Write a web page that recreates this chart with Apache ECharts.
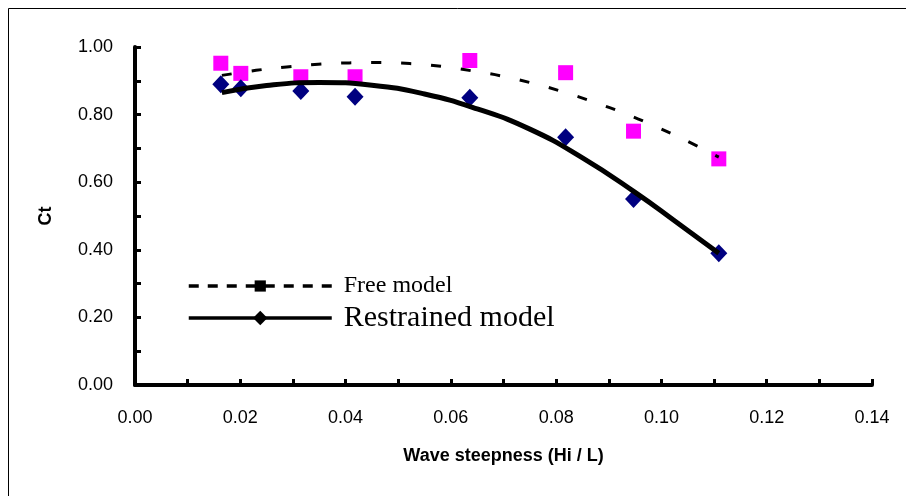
<!DOCTYPE html>
<html><head><meta charset="utf-8">
<script src="https://cdn.jsdelivr.net/npm/echarts@6/dist/echarts.min.js"></script>
<style>html,body{margin:0;padding:0;background:#fff}#c{width:906px;height:496px}</style>
</head><body><div id="c"></div>
<script>
// Measured data
const steepness = [0.0163, 0.0201, 0.0315, 0.0418, 0.0636, 0.0818, 0.0947, 0.1109];
const freeCt = [0.952, 0.922, 0.912, 0.912, 0.960, 0.924, 0.751, 0.669];
const restrainedCt = [0.890, 0.878, 0.870, 0.853, 0.850, 0.733, 0.550, 0.390];
// Trend curves
const freeTrendX = [0.0165, 0.0230, 0.0288, 0.0348, 0.0407, 0.0464, 0.0522, 0.0581, 0.0638, 0.0697, 0.0755, 0.0814, 0.0872, 0.0931, 0.0989, 0.1047, 0.1109];
const freeTrendCt = [0.916, 0.931, 0.941, 0.949, 0.953, 0.954, 0.951, 0.943, 0.930, 0.914, 0.893, 0.867, 0.837, 0.803, 0.765, 0.723, 0.674];
const restrainedTrendX = [0.0165, 0.025, 0.035, 0.045, 0.055, 0.065, 0.075, 0.085, 0.095, 0.103, 0.1109];
const restrainedTrendCt = [0.865, 0.886, 0.895, 0.887, 0.861, 0.817, 0.757, 0.672, 0.570, 0.480, 0.390];
const xTicks = ['0.00','0.02','0.04','0.06','0.08','0.10','0.12','0.14'];
const yTicks = ['0.00','0.20','0.40','0.60','0.80','1.00'];

const zip = (a, b) => a.map((v, i) => [v, b[i]]);
const chart = echarts.init(document.getElementById('c'));
const axisCommon = {
  axisLine: {show: true, onZero: false, lineStyle: {color: '#000', width: 4, cap: 'round'}},
  axisTick: {show: true, inside: true, length: 6, lineStyle: {color: '#000', width: 3}},
  splitLine: {show: false}
};
chart.setOption({
  animation: false,
  backgroundColor: '#fff',
  graphic: [{type: 'rect', shape: {x: 8.5, y: 8.5, width: 1000, height: 1000}, style: {fill: 'none', stroke: '#000', lineWidth: 1}, z: -1}],
  grid: {left: 135, right: 34, top: 47, bottom: 111},
  xAxis: Object.assign({
    type: 'value', min: 0, max: 0.14, interval: 0.01,
    name: 'Wave steepness (Hi / L)', nameLocation: 'middle', nameGap: 62,
    nameTextStyle: {fontFamily: 'Liberation Sans', fontWeight: 'bold', fontSize: 18, color: '#000'},
    axisLabel: {margin: 24, fontFamily: 'Liberation Sans', fontSize: 18, color: '#000',
      formatter: v => { const i = Math.round(v * 100); return i % 2 === 0 ? xTicks[i / 2] : ''; }}
  }, axisCommon),
  yAxis: Object.assign({
    type: 'value', min: 0, max: 1, interval: 0.1,
    name: 'Ct', nameLocation: 'middle', nameGap: 80, nameRotate: 90,
    nameTextStyle: {fontFamily: 'Liberation Sans', fontWeight: 'bold', fontSize: 18, color: '#000'},
    axisLabel: {margin: 22, fontFamily: 'Liberation Sans', fontSize: 18, color: '#000',
      formatter: v => { const i = Math.round(v * 10); return i % 2 === 0 ? yTicks[i / 2] : ''; }}
  }, axisCommon),
  legend: [
    {data: [{name: 'Free model', textStyle: {fontSize: 24}}], left: 182, top: 269, orient: 'vertical',
     itemWidth: 143, itemHeight: 14, itemGap: 8,
     lineStyle: {width: 3.5, type: [10, 9]},
     textStyle: {fontFamily: 'Liberation Serif', color: '#000', padding: [0, 0, 0, 7]}},
    {data: [{name: 'Restrained model', textStyle: {fontSize: 30}}], left: 182, top: 298, orient: 'vertical',
     itemWidth: 143, itemHeight: 18, itemGap: 8,
     lineStyle: {width: 3.5},
     textStyle: {fontFamily: 'Liberation Serif', color: '#000', padding: [0, 0, 0, 7]}}
  ],
  series: [
    {name: 'Free model', type: 'line', data: [], symbol: 'rect', symbolSize: 10,
     itemStyle: {color: '#000'}, lineStyle: {color: '#000', width: 3.5, type: [10, 9]}},
    {name: 'Restrained model', type: 'line', data: [], symbol: 'diamond', symbolSize: 16,
     itemStyle: {color: '#000'}, lineStyle: {color: '#000', width: 3.5}},
    {name: 'free-pts', type: 'scatter', data: zip(steepness, freeCt), symbol: 'rect', symbolSize: 15,
     itemStyle: {color: '#FF00FF', opacity: 1}, z: 2},
    {name: 'restrained-pts', type: 'scatter', data: zip(steepness, restrainedCt), symbol: 'diamond', symbolSize: [17, 18],
     itemStyle: {color: '#000080', opacity: 1}, z: 2},
    {name: 'free-trend', type: 'line', data: zip(freeTrendX, freeTrendCt), smooth: 0.4, showSymbol: false, symbol: 'none',
     lineStyle: {color: '#000', width: 3, type: [10, 20]}, z: 3},
    {name: 'restrained-trend', type: 'line', data: zip(restrainedTrendX, restrainedTrendCt), smooth: 0.5, showSymbol: false, symbol: 'none',
     lineStyle: {color: '#000', width: 5}, z: 3}
  ]
});
</script></body></html>
